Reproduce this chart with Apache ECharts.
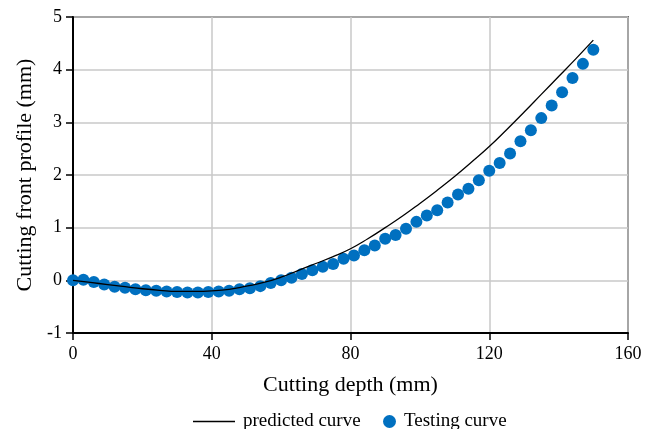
<!DOCTYPE html>
<html><head><meta charset="utf-8">
<script src="https://cdn.jsdelivr.net/npm/echarts@6/dist/echarts.min.js"></script>
<style>html,body{margin:0;padding:0;background:#fff}#c{width:654px;height:429px}</style>
</head><body><div id="c"></div>
<script>
var testX = [0,3,6,9,12,15,18,21,24,27,30,33,36,39,42,45,48,51,54,57,60,63,66,69,72,75,78,81,84,87,90,93,96,99,102,105,108,111,114,117,120,123,126,129,132,135,138,141,144,147,150];
var testY = [0,0.01,-0.03,-0.08,-0.12,-0.14,-0.17,-0.19,-0.2,-0.21,-0.22,-0.23,-0.23,-0.22,-0.21,-0.2,-0.17,-0.15,-0.11,-0.05,0.0,0.05,0.12,0.19,0.26,0.31,0.41,0.47,0.57,0.66,0.79,0.86,0.98,1.11,1.23,1.33,1.48,1.63,1.74,1.90,2.08,2.23,2.41,2.64,2.85,3.08,3.32,3.57,3.84,4.11,4.38];
var predX = [0,5,10,15,20,25,30,35,40,45,50,55,60,65,70,75,80,85,90,95,100,105,110,115,120,125,130,135,140,145,150];
var predY = [0,-0.04,-0.08,-0.12,-0.16,-0.19,-0.21,-0.21,-0.2,-0.17,-0.11,-0.04,0.06,0.19,0.32,0.45,0.6,0.79,1.0,1.22,1.46,1.71,1.97,2.25,2.54,2.86,3.19,3.53,3.87,4.21,4.56];
var xTicks = [0,40,80,120,160];
var yTicks = [-1,0,1,2,3,4,5];

function zip(a,b){return a.map(function(v,i){return [v,b[i]];});}
var font = 'Liberation Serif';
var chart = echarts.init(document.getElementById('c'));
var legendText = {fontFamily:font,fontSize:19,color:'#000',padding:[0,0,0,3]};
chart.setOption({
  animation:false,
  textStyle:{fontFamily:font},
  grid:{left:73,right:26,top:17,bottom:96,show:true,borderColor:'#000',borderWidth:1.5,backgroundColor:'transparent'},
  legend:[{
    top:407,left:188,
    textStyle:legendText,
    data:[{name:'predicted curve',icon:'path://M0,0H40V1.5H0Z',itemStyle:{color:'#000'}}],
    itemWidth:42,itemHeight:13
  },{
    top:407,left:378,
    textStyle:legendText,
    data:[{name:'Testing curve',icon:'circle'}],
    itemWidth:13,itemHeight:13
  }],
  xAxis:{
    type:'value',min:xTicks[0],max:xTicks[xTicks.length-1],interval:40,
    name:'Cutting depth (mm)',nameLocation:'middle',nameGap:41,
    nameTextStyle:{fontFamily:font,fontSize:22,color:'#000'},
    axisLine:{show:true,onZero:false,lineStyle:{color:'#000',width:2}},
    axisTick:{show:true,length:7,lineStyle:{color:'#000',width:1.5}},
    axisLabel:{fontFamily:font,fontSize:18,color:'#000',margin:12},
    splitLine:{show:true,lineStyle:{color:'#c8c8c8',width:1.5}}
  },
  yAxis:{
    type:'value',min:yTicks[0],max:yTicks[yTicks.length-1],interval:1,
    name:'Cutting front profile (mm)',nameLocation:'middle',nameGap:37,
    nameTextStyle:{fontFamily:font,fontSize:22,color:'#000'},
    axisLine:{show:true,onZero:false,lineStyle:{color:'#000',width:2}},
    axisTick:{show:true,length:7,lineStyle:{color:'#000',width:1.5}},
    axisLabel:{fontFamily:font,fontSize:18,color:'#000',margin:11},
    splitLine:{show:true,lineStyle:{color:'#c8c8c8',width:1.5}}
  },
  series:[
    {name:'predicted curve',type:'line',data:zip(predX,predY),smooth:true,showSymbol:false,symbol:'none',
     lineStyle:{color:'#000',width:1.3},itemStyle:{color:'#000'},z:3},
    {name:'Testing curve',type:'scatter',data:zip(testX,testY),symbolSize:12,
     itemStyle:{color:'#0070c0',opacity:1},z:2}
  ]
});
</script></body></html>
